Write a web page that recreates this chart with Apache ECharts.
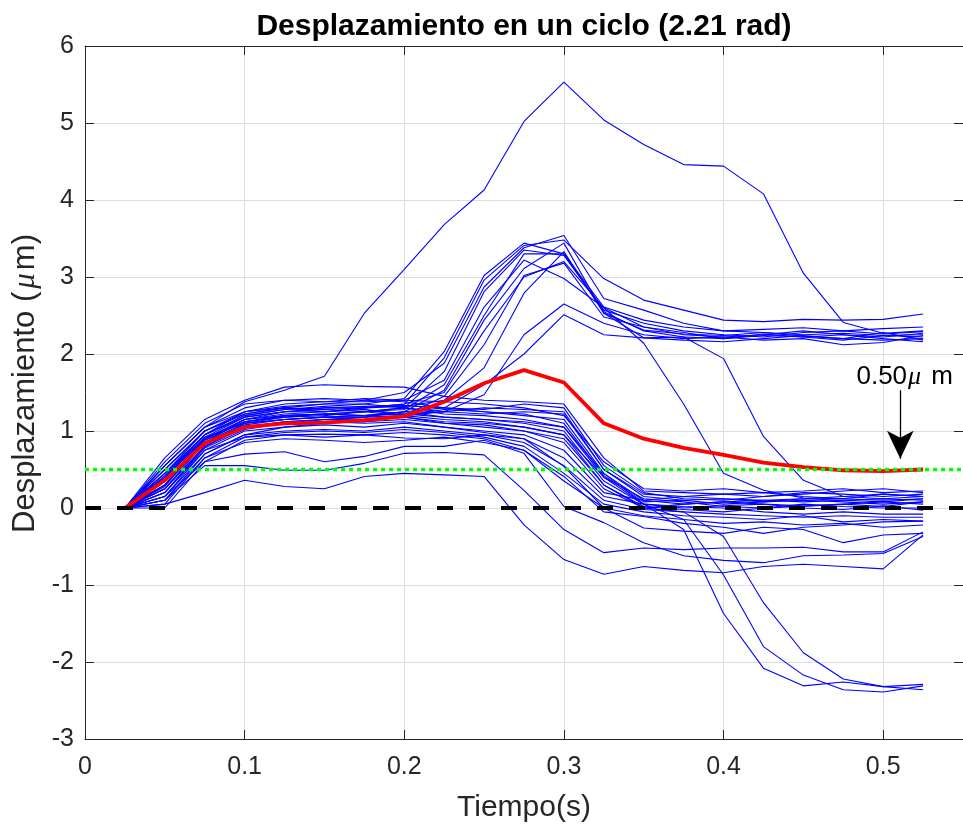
<!DOCTYPE html>
<html><head><meta charset="utf-8">
<script src="https://cdn.jsdelivr.net/npm/echarts@6/dist/echarts.min.js"></script>
<style>html,body{margin:0;padding:0;background:#fff}#c{width:963px;height:832px}</style>
</head><body><div id="c"></div>
<script>
// ---- data ----
const tiempo = [0.025,0.05,0.075,0.1,0.125,0.15,0.175,0.2,0.225,0.25,0.275,0.3,0.325,0.35,0.375,0.4,0.425,0.45,0.475,0.5,0.525];
const xTicks = [0,0.1,0.2,0.3,0.4,0.5];
const yTicks = [-3,-2,-1,0,1,2,3,4,5,6];
const xLimits = [0,0.55];

const lineA  = [0,0.55,1.05,1.38,1.53,1.71,2.53,3.10,3.68,4.13,5.02,5.53,5.04,4.72,4.46,4.44,4.08,3.05,2.41,2.27,2.30];
const lineB1 = [0,0.45,0.95,1.20,1.28,1.32,1.35,1.42,2.03,3.02,3.44,3.30,2.61,2.44,2.35,2.30,2.28,2.25,2.27,2.24,2.22];
const lineB2 = [0,0.30,0.90,1.15,1.25,1.30,1.30,1.35,1.95,2.96,3.41,3.48,2.98,2.70,2.57,2.44,2.42,2.45,2.44,2.45,2.52];
const lineB3 = [0,0.55,1.05,1.25,1.30,1.35,1.40,1.50,1.88,2.87,3.38,3.54,2.72,2.57,2.40,2.30,2.32,2.34,2.30,2.33,2.35];
const lineB4 = [0,0.20,0.80,1.10,1.18,1.20,1.25,1.30,1.77,2.81,3.35,3.28,2.57,2.40,2.30,2.25,2.22,2.28,2.30,2.26,2.29];
const lineB5 = [0,0.40,0.95,1.25,1.35,1.38,1.38,1.40,1.66,2.61,3.22,2.98,2.60,2.35,2.28,2.20,2.26,2.22,2.18,2.24,2.25];
const lineB6 = [0,0.35,0.85,1.05,1.10,1.15,1.18,1.25,1.53,2.44,3.11,3.44,2.53,2.31,2.26,2.24,2.28,2.23,2.20,2.28,2.18];
const lineB7 = [0,0.15,0.70,0.95,1.05,1.10,1.12,1.20,1.45,2.12,3.02,3.18,2.48,2.35,2.25,2.22,2.25,2.30,2.25,2.20,2.16];
const lineB8 = [0,0.50,1.00,1.22,1.30,1.28,1.30,1.32,1.40,1.82,2.79,3.33,2.53,2.21,2.18,2.16,2.20,2.24,2.20,2.18,2.20];
const lineB9 = [0,0.25,0.85,1.15,1.22,1.25,1.28,1.20,1.25,1.47,2.25,2.65,2.40,2.25,2.20,2.22,2.18,2.20,2.12,2.15,2.24];
const lineB10= [0,0.38,0.92,1.10,1.15,1.18,1.20,1.25,1.30,1.60,2.00,2.51,2.25,2.21,2.22,2.20,2.24,2.22,2.25,2.22,2.27];
const lineC1 = [0,0.42,0.95,1.18,1.25,1.25,1.30,1.35,1.50,2.30,3.00,3.20,2.60,2.14,1.35,0.45,0.23,0.13,0.12,0.10,0.12];
const lineC2 = [0,0.28,0.88,1.12,1.20,1.22,1.25,1.28,1.60,2.50,3.30,3.30,2.55,2.30,2.22,1.94,0.93,0.36,0.15,0.12,0.15];
const lineD1 = [0,0.65,1.15,1.40,1.57,1.60,1.58,1.57,1.45,1.40,1.38,1.35,0.65,0.22,0.20,0.18,0.15,0.18,0.22,0.25,0.20];
const lineD2 = [0,0.55,1.05,1.30,1.40,1.42,1.40,1.38,1.30,1.28,1.35,1.30,0.55,0.20,0.12,0.10,0.15,0.20,0.18,0.15,0.18];
const lineD3 = [0,0.50,1.00,1.25,1.32,1.35,1.35,1.30,1.25,1.30,1.28,1.25,0.50,0.15,0.10,0.05,0.08,0.12,0.10,0.08,0.12];
const lineD4 = [0,0.45,0.95,1.20,1.28,1.30,1.32,1.33,1.30,1.25,1.20,1.15,0.45,0.10,0.05,0.08,0.05,0.03,0.05,0.08,0.05];
const lineD5 = [0,0.40,0.92,1.18,1.25,1.28,1.25,1.30,1.22,1.20,1.15,1.05,0.40,0.12,0.08,0.02,0.00,0.05,0.02,0.00,0.00];
const lineD6 = [0,0.35,0.90,1.15,1.20,1.22,1.20,1.25,1.18,1.15,1.10,1.00,0.35,0.05,0.00,0.03,0.05,0.00,-0.02,0.03,-0.03];
const lineD7 = [0,0.30,0.85,1.10,1.15,1.18,1.18,1.20,1.15,1.12,1.05,0.95,0.30,0.02,-0.02,-0.05,0.00,0.02,0.05,0.02,0.08];
const lineD8 = [0,0.25,0.80,1.05,1.12,1.15,1.15,1.18,1.10,1.08,1.00,0.85,0.25,0.00,0.05,0.08,0.10,0.12,0.15,0.18,0.15];
const lineD9 = [0,0.20,0.78,1.02,1.10,1.12,1.10,1.12,1.05,1.00,0.95,0.75,0.20,0.10,0.15,0.12,0.10,0.08,0.10,0.12,0.10];
const lineD10= [0,0.15,0.75,1.00,1.05,1.08,1.05,1.10,1.05,0.98,0.90,0.65,0.15,0.05,0.02,0.00,-0.05,-0.08,-0.05,-0.08,-0.08];
const lineD11= [0,0.10,0.70,0.95,1.00,1.02,1.00,1.05,1.00,0.95,0.85,0.55,0.10,-0.02,-0.05,-0.08,-0.10,-0.12,-0.10,-0.12,-0.12];
const lineD12= [0,0.05,0.65,0.92,0.98,1.00,0.98,1.02,0.98,0.92,0.80,0.45,0.05,-0.05,-0.10,-0.12,-0.15,-0.10,-0.18,-0.15,-0.17];
const lineD13= [0,0.00,0.60,0.88,0.95,0.96,0.95,0.98,0.95,0.90,0.75,0.35,0.00,-0.10,-0.15,-0.20,-0.18,-0.22,-0.20,-0.25,-0.22];
const lineD14= [0,0.60,1.10,1.35,1.40,1.38,1.42,1.40,1.38,1.35,1.30,1.20,0.60,0.25,0.22,0.25,0.20,0.22,0.25,0.20,0.22];
const lineD15= [0,0.45,1.00,1.22,1.30,1.25,1.28,1.22,1.25,1.22,1.25,1.22,0.50,0.18,0.15,0.18,0.20,0.15,0.12,0.18,0.15];
const lineD16= [0,0.35,0.88,1.12,1.18,1.22,1.25,1.20,1.28,1.25,1.22,1.10,0.42,0.08,0.10,0.12,0.08,0.10,0.08,0.05,0.08];
const lineE1 = [0,0.05,0.20,0.36,0.28,0.25,0.41,0.45,0.43,0.41,-0.22,-0.67,-0.86,-0.76,-0.81,-0.84,-0.76,-0.73,-0.76,-0.79,-0.35];
const lineE2 = [0,0.10,0.55,0.55,0.49,0.49,0.58,0.71,0.72,0.69,0.23,-0.28,-0.58,-0.52,-0.54,-0.52,-0.52,-0.51,-0.57,-0.57,-0.31];
const lineE3 = [0,0.15,0.60,0.70,0.73,0.60,0.67,0.80,0.80,0.88,0.71,0.02,-0.19,-0.45,-0.62,-0.68,-0.71,-0.62,-0.61,-0.59,-0.37];
const lineE4 = [0,0.20,0.75,0.92,0.95,0.92,0.95,0.91,0.90,0.95,0.90,0.54,0.00,-0.26,-0.30,-0.33,-0.25,-0.28,-0.45,-0.35,-0.33];
const lineE5 = [0,0.10,0.65,0.85,0.90,0.88,0.85,0.88,0.92,0.85,0.75,0.41,-0.05,-0.11,-0.20,-0.25,-0.33,-0.25,-0.22,-0.18,-0.17];
const lineF1 = [0,0.40,0.90,1.12,1.20,1.22,1.20,1.22,1.18,1.15,1.12,1.05,0.45,0.05,-0.28,-1.37,-2.08,-2.31,-2.26,-2.32,-2.29];
const lineF2 = [0,0.30,0.85,1.08,1.15,1.18,1.15,1.18,1.12,1.10,1.05,0.95,0.40,0.05,-0.15,-0.87,-1.80,-2.17,-2.36,-2.39,-2.31];
const lineF3 = [0,0.25,0.80,1.05,1.12,1.15,1.12,1.15,1.10,1.05,1.00,0.90,0.30,0.00,-0.05,-0.37,-1.23,-1.88,-2.22,-2.32,-2.36];

const media = [0,0.36,0.84,1.05,1.10,1.11,1.14,1.19,1.38,1.62,1.79,1.63,1.10,0.90,0.78,0.69,0.59,0.53,0.49,0.48,0.50];
const nivelCero = 0;
const nivelUmbral = 0.5;
const anotX = 0.5107;
const anotFlecha = [1.53, 0.64];
const anotTextoX = 0.5135;
const anotTextoY = 1.70;

const blueLines = [lineA,lineB1,lineB2,lineB3,lineB4,lineB5,lineB6,lineB7,lineB8,lineB9,lineB10,lineC1,lineC2,
  lineD1,lineD2,lineD3,lineD4,lineD5,lineD6,lineD7,lineD8,lineD9,lineD10,lineD11,lineD12,lineD13,lineD14,lineD15,lineD16,
  lineE1,lineE2,lineE3,lineE4,lineE5,lineF1,lineF2,lineF3];

// ---- chart ----
const FF = "'Liberation Sans', Arial, sans-serif";
const AX = '#262626';
const chart = echarts.init(document.getElementById('c'), null, {renderer:'canvas'});
const pairs = arr => tiempo.map((t,i)=>[t, arr[i]]);

const series = [];
blueLines.forEach(l => series.push({type:'line', data:pairs(l), symbol:'none', silent:true,
  lineStyle:{color:'#0000ff', width:1.1}, z:2}));
series.push({type:'line', data:pairs(media), symbol:'none', silent:true,
  lineStyle:{color:'#ff0000', width:3.8}, z:3,
  markLine:{silent:true, animation:false, label:{show:false}, lineStyle:{color:'#000', width:1.3, type:'solid'},
    data:[[{coord:[anotX, anotFlecha[0]], symbol:'none'},{coord:[anotX, anotFlecha[1]], symbol:'arrow', symbolSize:[20,28]}]]},
  markPoint:{silent:true, symbol:'circle', symbolSize:0, animation:false,
    data:[{coord:[anotTextoX, anotTextoY]}],
    label:{show:true, position:'inside', formatter:'{a|0.50}{b|μ}{a| m}',
      rich:{a:{fontSize:26, fontFamily:FF, color:'#000'}, b:{fontSize:26, fontFamily:"'Liberation Serif', serif", fontStyle:'italic', color:'#000', padding:[0,3,0,1]}}}}
});
series.push({type:'line', data:[[xLimits[0], nivelUmbral],[xLimits[1], nivelUmbral]], symbol:'none', silent:true,
  lineStyle:{color:'#00ff00', width:3.5, type:[4,4]}, z:4});
series.push({type:'line', data:[[xLimits[0], nivelCero],[xLimits[1], nivelCero]], symbol:'none', silent:true,
  lineStyle:{color:'#000000', width:4, type:[16,16]}, z:5});

const baseAxis = {
  type:'value', axisLine:{show:true, onZero:false, lineStyle:{color:AX, width:1}},
  axisTick:{show:true, inside:true, length:9, lineStyle:{color:AX, width:1}},
};
const option = {
  animation:false,
  backgroundColor:'#fff',
  grid:{left:85, right:0, top:46, bottom:93, containLabel:false},
  xAxis:[
    Object.assign({}, baseAxis, {position:'bottom', min:xLimits[0], max:xLimits[1], interval:xTicks[1]-xTicks[0],
      axisLabel:{fontSize:25, color:AX, fontFamily:FF, margin:16, showMaxLabel:false},
      splitLine:{show:true, lineStyle:{color:'#dcdcdc', width:1}},
      name:'Tiempo(s)', nameLocation:'middle', nameGap:54,
      nameTextStyle:{fontSize:30, color:AX, fontFamily:FF}}),
    Object.assign({}, baseAxis, {position:'top', min:xLimits[0], max:xLimits[1], interval:xTicks[1]-xTicks[0],
      axisLabel:{show:false}, splitLine:{show:false},
      name:'Desplazamiento en un ciclo (2.21 rad)', nameLocation:'middle', nameGap:4,
      nameTextStyle:{fontSize:30, fontWeight:'bold', color:'#000', fontFamily:FF}})
  ],
  yAxis:[
    Object.assign({}, baseAxis, {position:'left', min:yTicks[0], max:yTicks[yTicks.length-1], interval:yTicks[1]-yTicks[0],
      axisLabel:{fontSize:25, color:AX, fontFamily:FF, margin:11},
      splitLine:{show:true, lineStyle:{color:'#dcdcdc', width:1}},
      name:'{p|}{a|Desplazamiento (}{b|μ}{a|m)}', nameLocation:'middle', nameGap:42,
      nameTextStyle:{fontSize:31, color:AX, fontFamily:FF,
        rich:{p:{width:18}, a:{fontSize:31, color:AX, fontFamily:FF}, b:{fontSize:31, color:AX, fontFamily:"'Liberation Serif', serif", fontStyle:'italic', padding:[0,3,0,3]}}}}),
    Object.assign({}, baseAxis, {position:'right', min:yTicks[0], max:yTicks[yTicks.length-1], interval:yTicks[1]-yTicks[0],
      axisLabel:{show:false}, splitLine:{show:false}})
  ],
  series: series
};
chart.setOption(option);
</script></body></html>
